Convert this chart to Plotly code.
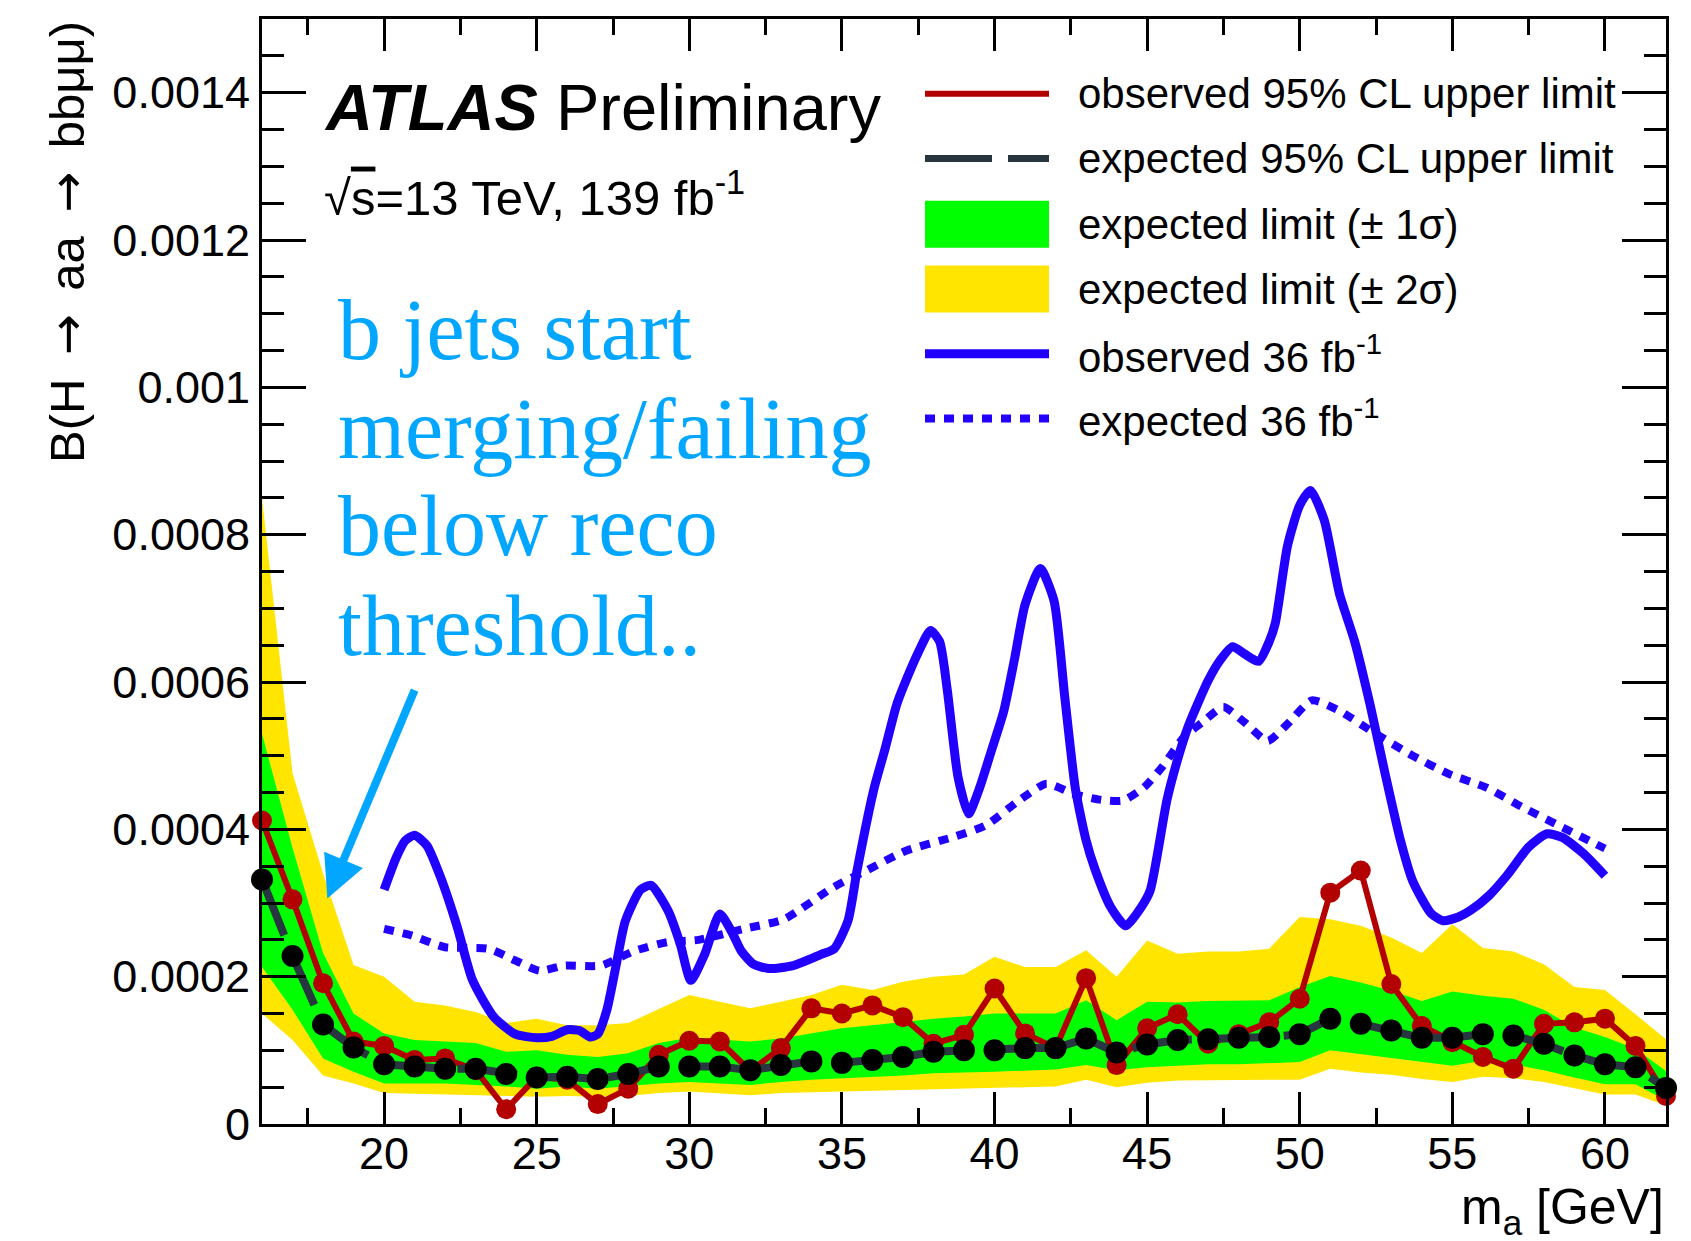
import plotly.graph_objects as go

# ---------------- data (branching ratio values in units of 1e-4) ----------------
mass = list(range(16, 63))

observed = [4.12, 3.05, 1.91, 1.12, 1.06, 0.87, 0.89, 0.73, 0.20, 0.64,
            0.60, 0.27, 0.48, 0.94, 1.13, 1.12, 0.72, 1.03, 1.57, 1.50,
            1.61, 1.45, 1.09, 1.21, 1.84, 1.23, 1.03, 1.98, 0.80, 1.30,
            1.49, 1.09, 1.22, 1.38, 1.70, 3.14, 3.44, 1.90, 1.33, 1.11,
            0.91, 0.75, 1.36, 1.38, 1.43, 1.06, 0.38]

expected = [3.32, 2.28, 1.35, 1.04, 0.81, 0.78, 0.75, 0.75, 0.68, 0.63,
            0.64, 0.61, 0.68, 0.78, 0.78, 0.78, 0.73, 0.80, 0.85, 0.83,
            0.87, 0.91, 0.98, 1.00, 1.00, 1.03, 1.03, 1.16, 0.97, 1.08,
            1.14, 1.15, 1.17, 1.18, 1.22, 1.43, 1.36, 1.27, 1.17, 1.17,
            1.22, 1.20, 1.09, 0.93, 0.81, 0.77, 0.49]

sigma1_up = [5.30, 3.75, 2.32, 1.50, 1.23, 1.14, 1.12, 1.10, 0.98, 1.00,
             0.94, 0.91, 0.96, 1.10, 1.17, 1.14, 1.12, 1.16, 1.23, 1.30,
             1.34, 1.39, 1.43, 1.46, 1.50, 1.50, 1.50, 1.68, 1.41, 1.66,
             1.65, 1.67, 1.67, 1.68, 1.86, 2.01, 1.92, 1.81, 1.67, 1.80,
             1.74, 1.70, 1.55, 1.31, 1.18, 1.02, 0.72]

sigma1_dn = [2.13, 1.55, 0.89, 0.71, 0.55, 0.55, 0.55, 0.53, 0.51, 0.48,
             0.51, 0.48, 0.51, 0.55, 0.57, 0.55, 0.53, 0.57, 0.60, 0.62,
             0.64, 0.66, 0.69, 0.70, 0.71, 0.72, 0.74, 0.80, 0.73, 0.77,
             0.79, 0.81, 0.81, 0.82, 0.84, 1.00, 0.95, 0.90, 0.84, 0.79,
             0.86, 0.81, 0.73, 0.63, 0.54, 0.54, 0.32]

sigma2_up = [8.50, 4.76, 3.40, 2.16, 2.00, 1.66, 1.61, 1.52, 1.37, 1.43,
             1.34, 1.34, 1.37, 1.56, 1.75, 1.66, 1.57, 1.66, 1.75, 1.89,
             1.82, 1.93, 2.00, 2.03, 2.27, 2.13, 2.13, 2.36, 2.00, 2.49,
             2.31, 2.34, 2.34, 2.38, 2.81, 2.78, 2.69, 2.53, 2.32, 2.71,
             2.39, 2.34, 2.17, 1.86, 1.82, 1.49, 1.15]

sigma2_dn = [1.50, 1.14, 0.66, 0.55, 0.42, 0.41, 0.39, 0.39, 0.38, 0.37,
             0.38, 0.37, 0.38, 0.42, 0.44, 0.42, 0.39, 0.42, 0.43, 0.44,
             0.45, 0.46, 0.47, 0.48, 0.49, 0.50, 0.51, 0.60, 0.50, 0.56,
             0.59, 0.60, 0.60, 0.60, 0.60, 0.75, 0.70, 0.67, 0.61, 0.57,
             0.64, 0.62, 0.57, 0.48, 0.40, 0.40, 0.25]

obs36_mass = [20.0, 20.4, 20.7, 21.0, 21.4, 21.85, 22.4, 22.9, 23.6, 24.3,
              25.0, 25.5, 26.0, 26.4, 26.75, 27.0, 27.3, 27.6, 27.9, 28.4,
              28.75, 29.3, 29.7, 30.05, 30.5, 31.0, 31.4, 31.7, 32.1, 32.6,
              33.4, 34.3, 34.75, 35.2, 35.5, 36.05, 36.4, 36.8, 37.15, 37.5,
              37.9, 38.2, 38.45, 38.8, 39.15, 39.5, 39.9, 40.3, 40.65, 41.0,
              41.5, 41.95, 42.3, 42.65, 43.0, 43.3, 43.8, 44.3, 44.8, 45.1,
              45.65, 46.0, 46.35, 47.0, 47.4, 47.8, 48.2, 48.65, 49.0, 49.2,
              49.6, 50.0, 50.35, 50.8, 51.3, 51.8, 52.3, 52.8, 53.3, 53.7,
              54.3, 54.7, 55.2, 55.6, 56.2, 56.8, 57.5, 58.1, 58.6, 59.3, 60.0]
obs36 = [3.18, 3.62, 3.85, 3.92, 3.78, 3.35, 2.67, 1.95, 1.45, 1.22,
         1.17, 1.19, 1.28, 1.27, 1.18, 1.22, 1.55, 2.15, 2.75, 3.18,
         3.24, 2.90, 2.45, 1.95, 2.30, 2.85, 2.60, 2.35, 2.17, 2.11,
         2.15, 2.30, 2.38, 2.76, 3.45, 4.55, 5.07, 5.70, 6.07, 6.40,
         6.70, 6.55, 5.90, 4.72, 4.21, 4.55, 5.07, 5.60, 6.30, 7.05,
         7.54, 7.10, 5.80, 4.55, 3.85, 3.45, 2.95, 2.69, 2.94, 3.17,
         4.40, 4.95, 5.40, 6.02, 6.30, 6.48, 6.38, 6.28, 6.55, 6.80,
         7.85, 8.40, 8.60, 8.20, 7.20, 6.55, 5.70, 4.75, 3.85, 3.30,
         2.86, 2.76, 2.81, 2.90, 3.10, 3.38, 3.76, 3.94, 3.89, 3.67, 3.37]

exp36_mass = [20.0, 20.9, 22.0, 23.4, 24.3, 25.1, 25.9, 27.1, 28.2, 29.3,
              30.3, 31.8, 33.1, 34.7, 35.8, 37.1, 38.6, 39.7, 40.8, 41.7,
              42.6, 43.5, 44.2, 44.9, 45.5, 46.2, 46.8, 47.5, 48.2, 48.95,
              49.6, 50.4, 51.3, 52.4, 53.7, 54.9, 56.1, 57.3, 58.4, 59.7, 60.0]
exp36 = [2.65, 2.56, 2.40, 2.38, 2.22, 2.08, 2.15, 2.15, 2.35, 2.47,
         2.50, 2.65, 2.78, 3.21, 3.44, 3.71, 3.89, 4.05, 4.39, 4.62,
         4.48, 4.40, 4.39, 4.57, 4.85, 5.25, 5.45, 5.66, 5.45, 5.20,
         5.43, 5.75, 5.61, 5.32, 5.00, 4.75, 4.57, 4.30, 4.07, 3.80, 3.74]

y_tickvals = [0, 2, 4, 6, 8, 10, 12, 14]
y_ticktext = ["0", "0.0002", "0.0004", "0.0006", "0.0008", "0.001", "0.0012", "0.0014"]
x_tickvals = [20, 25, 30, 35, 40, 45, 50, 55, 60]

legend_labels = ["observed 95% CL upper limit", "expected 95% CL upper limit",
                 "expected limit (± 1σ)", "expected limit (± 2σ)",
                 "observed 36 fb<sup>-1</sup>", "expected 36 fb<sup>-1</sup>"]

note_lines = ["b jets start", "merging/failing", "below reco", "threshold.."]

# ---------------- styles ----------------
RED = "#b30000"
DARK = "#28363f"
BLUE = "#2200ff"
GREEN = "#00ff00"
YELLOW = "#ffe500"
CYAN = "#00a6ff"
SANS = "Liberation Sans, Arial, sans-serif"
SERIF = "Liberation Serif, Times New Roman, serif"

fig = go.Figure()

fig.add_trace(go.Scatter(x=mass + mass[::-1], y=sigma2_up + sigma2_dn[::-1],
                         fill="toself", fillcolor=YELLOW, line=dict(width=0),
                         mode="lines", hoverinfo="skip", showlegend=False))
fig.add_trace(go.Scatter(x=mass + mass[::-1], y=sigma1_up + sigma1_dn[::-1],
                         fill="toself", fillcolor=GREEN, line=dict(width=0),
                         mode="lines", hoverinfo="skip", showlegend=False))
fig.add_trace(go.Scatter(x=mass, y=observed, mode="lines+markers",
                         line=dict(color=RED, width=6),
                         marker=dict(color=RED, size=20),
                         cliponaxis=False, showlegend=False))
fig.add_trace(go.Scatter(x=mass, y=expected, mode="lines+markers",
                         line=dict(color=DARK, width=8, dash="60px,16px"),
                         marker=dict(color="black", size=22),
                         cliponaxis=False, showlegend=False))
fig.add_trace(go.Scatter(x=obs36_mass, y=obs36, mode="lines",
                         line=dict(color=BLUE, width=9, shape="spline", smoothing=0.6),
                         showlegend=False))
fig.add_trace(go.Scatter(x=exp36_mass, y=exp36, mode="lines",
                         line=dict(color=BLUE, width=8, dash="10px,9px",
                                   shape="spline", smoothing=0.6),
                         showlegend=False))

# ---------------- layout ----------------
L, R, T, B = 262, 25, 19, 117
W, H = 1691, 1241
PW, PH = W - L - R, H - T - B


def px(xp):
    return (xp - L) / PW


def py(yp):
    return (H - B - yp) / PH


fig.update_layout(
    width=W, height=H,
    margin=dict(l=L, r=R, t=T, b=B, pad=0),
    paper_bgcolor="white", plot_bgcolor="white",
    font=dict(family=SANS, size=45, color="black"),
    showlegend=False,
    xaxis=dict(range=[16, 62], tickvals=x_tickvals, ticks="inside", ticklen=32,
               tickwidth=2.5, tickcolor="black", showline=True, linecolor="black",
               linewidth=3, mirror="ticks", showgrid=False, zeroline=False,
               ticklabelstandoff=-12,
               tickfont=dict(size=45, family=SANS),
               minor=dict(dtick=2.5, tick0=0, ticks="inside", ticklen=16,
                          tickwidth=2.5, tickcolor="black", showgrid=False)),
    yaxis=dict(range=[0, 15], tickvals=y_tickvals, ticktext=y_ticktext,
               ticks="inside", ticklen=44, tickwidth=2.5, tickcolor="black",
               showline=True, linecolor="black", linewidth=3, mirror="ticks",
               showgrid=False, zeroline=False, tickfont=dict(size=45, family=SANS),
               minor=dict(dtick=0.5, tick0=0, ticks="inside", ticklen=22,
                          tickwidth=2.5, tickcolor="black", showgrid=False)),
)

ARW = "\u2009<span style='font-family:DejaVu Sans'>→</span>\u2009"
ann = []
# axis titles
ann.append(dict(text="B(H " + ARW + " aa " + ARW + " bbμμ)", xref="paper", yref="paper",
                x=px(67), y=1.0, xanchor="center", yanchor="top", textangle=-90,
                showarrow=False, font=dict(size=49, family=SANS)))
ann.append(dict(text="m<sub>a</sub> [GeV]", xref="paper", yref="paper",
                x=1.0, y=py(1210), xanchor="right", yanchor="middle",
                showarrow=False, font=dict(size=50, family=SANS)))
# ATLAS label
ann.append(dict(text="<b><i>ATLAS</i></b> Preliminary", xref="paper", yref="paper",
                x=px(322), y=py(107), xanchor="left", yanchor="middle",
                showarrow=False, font=dict(size=65, family=SANS)))
ann.append(dict(text="√<span style='text-decoration:overline'>s</span>=13 TeV, 139 fb<sup>-1</sup>",
                xref="paper", yref="paper",
                x=px(322), y=py(194), xanchor="left", yanchor="middle",
                showarrow=False, font=dict(size=49, family=SANS)))
# blue note
for yc, line in zip([330, 429, 526, 626], note_lines):
    ann.append(dict(text=line, xref="paper", yref="paper", x=px(336), y=py(yc),
                    xanchor="left", yanchor="middle", showarrow=False,
                    font=dict(size=86, family=SERIF, color=CYAN)))
# arrow
ann.append(dict(text="", x=18.14, y=3.06, ax=21.02, ay=5.91, xref="x", yref="y",
                axref="x", ayref="y", showarrow=True, arrowhead=2, arrowsize=1.05,
                arrowwidth=8, arrowcolor=CYAN, standoff=0))

# legend (drawn manually)
leg_y = [93.8, 158.5, 224.3, 289.0, 353.7, 418.4]
sx0, sx1, tx = px(925), px(1049), px(1076)
shapes = []
shapes.append(dict(type="line", xref="paper", yref="paper", x0=sx0, x1=sx1,
                   y0=py(leg_y[0]), y1=py(leg_y[0]), line=dict(color=RED, width=6)))
shapes.append(dict(type="line", xref="paper", yref="paper", x0=sx0, x1=sx1,
                   y0=py(leg_y[1]), y1=py(leg_y[1]),
                   line=dict(color=DARK, width=7, dash="67px,16px")))
shapes.append(dict(type="rect", xref="paper", yref="paper", x0=sx0, x1=sx1,
                   y0=py(leg_y[2] + 23.5), y1=py(leg_y[2] - 23.5),
                   fillcolor=GREEN, line=dict(width=0)))
shapes.append(dict(type="rect", xref="paper", yref="paper", x0=sx0, x1=sx1,
                   y0=py(leg_y[3] + 23.5), y1=py(leg_y[3] - 23.5),
                   fillcolor=YELLOW, line=dict(width=0)))
shapes.append(dict(type="line", xref="paper", yref="paper", x0=sx0, x1=sx1,
                   y0=py(leg_y[4]), y1=py(leg_y[4]), line=dict(color=BLUE, width=9)))
shapes.append(dict(type="line", xref="paper", yref="paper", x0=sx0, x1=sx1,
                   y0=py(leg_y[5]), y1=py(leg_y[5]),
                   line=dict(color=BLUE, width=8, dash="10px,9px")))
for yc, lab in zip(leg_y, legend_labels):
    ann.append(dict(text=lab, xref="paper", yref="paper", x=tx, y=py(yc),
                    xanchor="left", yanchor="middle", showarrow=False,
                    font=dict(size=42, family=SANS)))

fig.update_layout(annotations=ann, shapes=shapes)

fig.write_html("out.html")
